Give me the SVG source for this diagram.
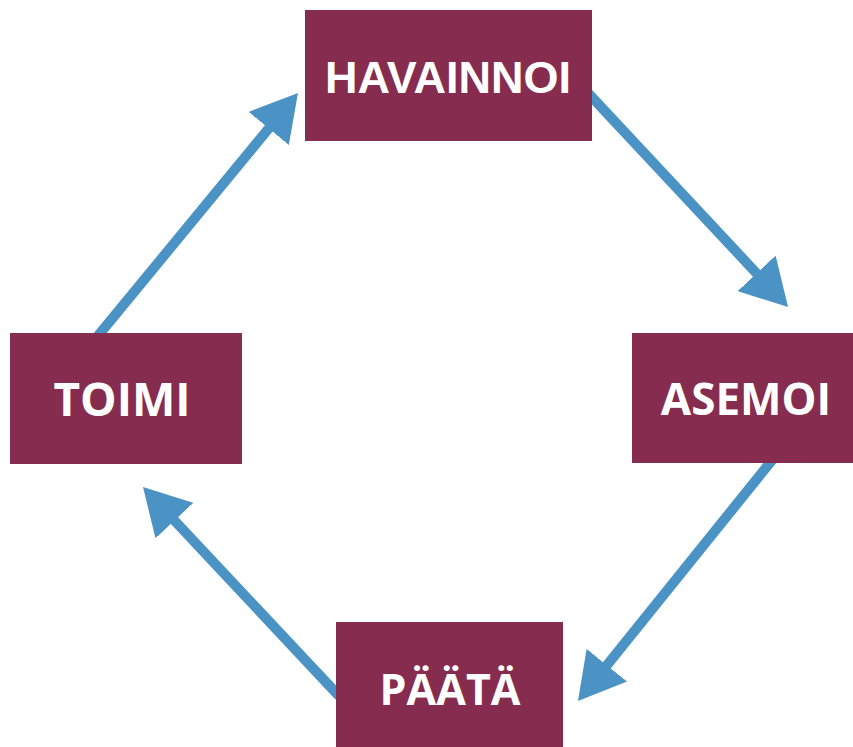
<svg xmlns="http://www.w3.org/2000/svg" width="853" height="747" viewBox="0 0 853 747">
  <style>
    .box { fill: #862C4E; }
    .lbl { fill: #ffffff; font-weight: bold; text-anchor: middle; }
    .sans { font-family: "Liberation Sans", Arial, sans-serif; }
    .open { font-family: "Open Sans", "Noto Sans", sans-serif; }
    .conn { stroke: #4A93C4; stroke-width: 10; fill: none; marker-end: url(#head); }
  </style>
  <defs>
    <marker id="head" markerUnits="userSpaceOnUse" viewBox="0 0 46 52" refX="2" refY="26" markerWidth="46" markerHeight="52" orient="auto">
      <path d="M0,0 L46,26 L0,52 z" fill="#4A93C4"/>
    </marker>
  </defs>
  <rect width="853" height="747" fill="#ffffff"/>
  <g id="connectors">
    <line class="conn" x1="588" y1="93" x2="758" y2="274.8"/>
    <line class="conn" x1="773" y1="459" x2="605.6" y2="666.8"/>
    <line class="conn" x1="339" y1="696" x2="173.1" y2="519.1"/>
    <line class="conn" x1="97" y1="337" x2="270" y2="126.9"/>
  </g>
  <g id="havainnoi">
    <rect class="box" x="305" y="10" width="287" height="131"/>
    <text class="lbl sans" x="448" y="93" font-size="45">HAVAINNOI</text>
  </g>
  <g id="asemoi">
    <rect class="box" x="632" y="333" width="221" height="130"/>
    <text class="lbl open" x="746" y="415" font-size="44">ASEMOI</text>
  </g>
  <g id="paata">
    <rect class="box" x="336" y="622" width="227" height="125"/>
    <text class="lbl open" x="450" y="705" font-size="43">PÄÄTÄ</text>
  </g>
  <g id="toimi">
    <rect class="box" x="10" y="333" width="232" height="131"/>
    <text class="lbl open" x="122" y="416" font-size="46">TOIMI</text>
  </g>
</svg>
